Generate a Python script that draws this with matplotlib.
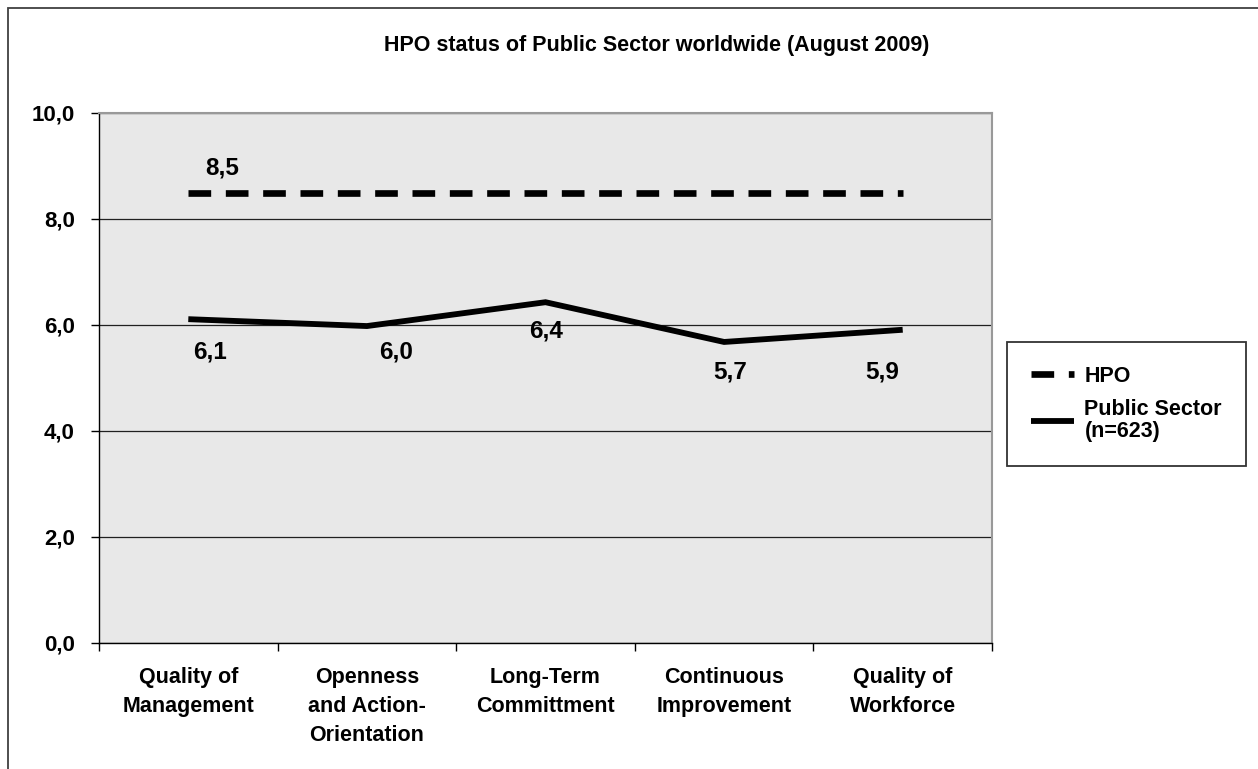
import matplotlib
matplotlib.use("Agg")
import matplotlib.pyplot as plt
from matplotlib.patches import Rectangle

plt.rcParams['font.family'] = ['Liberation Sans', 'DejaVu Sans']

categories = ["Quality of\nManagement", "Openness\nand Action-\nOrientation",
              "Long-Term\nCommittment", "Continuous\nImprovement", "Quality of\nWorkforce"]
hpo = [8.5, 8.5, 8.5, 8.5, 8.5]
public_sector = [6.11, 5.98, 6.43, 5.68, 5.91]
y_ticks = [0, 2, 4, 6, 8, 10]
y_tick_labels = ["0,0", "2,0", "4,0", "6,0", "8,0", "10,0"]
title = "HPO status of Public Sector worldwide (August 2009)"

W, H = 1258, 769
fig = plt.figure(figsize=(W / 100, H / 100), dpi=100)
fig.patch.set_facecolor('white')

# outer chart frame (top and left visible)
fig.add_artist(Rectangle((8 / W, -0.1), 1.2, (H - 8) / H + 0.1, transform=fig.transFigure,
                         fill=False, edgecolor='#404040', linewidth=1.3))

ax = fig.add_axes([99 / W, (H - 643) / H, (992 - 99) / W, (643 - 113) / H])
ax.set_facecolor('#E8E8E8')

x = [i + 0.5 for i in range(len(categories))]
ax.plot(x, hpo, color='black', linewidth=4.8, linestyle=(0, (3.4, 2.2)),
        dash_capstyle='butt', label='HPO', zorder=3)
ax.plot(x, public_sector, color='black', linewidth=4.2, solid_joinstyle='miter',
        solid_capstyle='butt', label='Public Sector\n(n=623)', zorder=3)

def fmt(v):
    return f"{v:.1f}".replace('.', ',')

ax.annotate(fmt(hpo[0]), (x[0], hpo[0]), xytext=(34, 25), textcoords='offset pixels',
            ha='center', va='center', fontsize=17.5, fontweight='bold')
ps_offsets = [(22, -33), (29, -26), (1, -29), (6, -30), (-20, -42)]
for xi, v, off in zip(x, public_sector, ps_offsets):
    ax.annotate(fmt(v), (xi, v), xytext=off, textcoords='offset pixels',
                ha='center', va='center', fontsize=17.5, fontweight='bold')

ax.set_xlim(0, len(categories))
ax.set_ylim(0, 10)
ax.set_yticks(y_ticks)
ax.set_yticklabels(y_tick_labels, fontsize=16, fontweight='bold')
ax.tick_params(axis='y', length=5.8, width=1, pad=11.5, color='black')
ax.set_xticks(range(len(categories) + 1))
ax.set_xticklabels([])
ax.set_xticks(x, minor=True)
ax.set_xticklabels(categories, minor=True, fontsize=15.5, fontweight='bold',
                   linespacing=1.5, va='top')
ax.tick_params(axis='x', which='major', length=5.8, width=1, color='black')
ax.tick_params(axis='x', which='minor', length=0, pad=17)

ax.grid(axis='y', color='#202020', linewidth=0.9, zorder=1)
ax.set_axisbelow(True)
for s in ['top', 'right']:
    ax.spines[s].set_color('#999999')
    ax.spines[s].set_linewidth(1.5)
for s in ['left', 'bottom']:
    ax.spines[s].set_color('black')
    ax.spines[s].set_linewidth(1)

fig.text(657 / W, 1 - 46 / H, title, ha='center', va='center', fontsize=15.5, fontweight='bold')

leg = fig.legend(loc='upper left', bbox_to_anchor=(1007 / W, 1 - 342 / H),
                 bbox_transform=fig.transFigure, frameon=True, fancybox=False,
                 prop={'size': 15.5, 'weight': 'bold'}, handlelength=2.0,
                 borderpad=1.1, labelspacing=0.55, handletextpad=0.5,
                 borderaxespad=0)
leg.get_frame().set_edgecolor('black')
leg.get_frame().set_linewidth(1.3)
for t in leg.get_texts():
    t.set_linespacing(1.1)

fig.savefig('out.png', dpi=100, facecolor='white')
